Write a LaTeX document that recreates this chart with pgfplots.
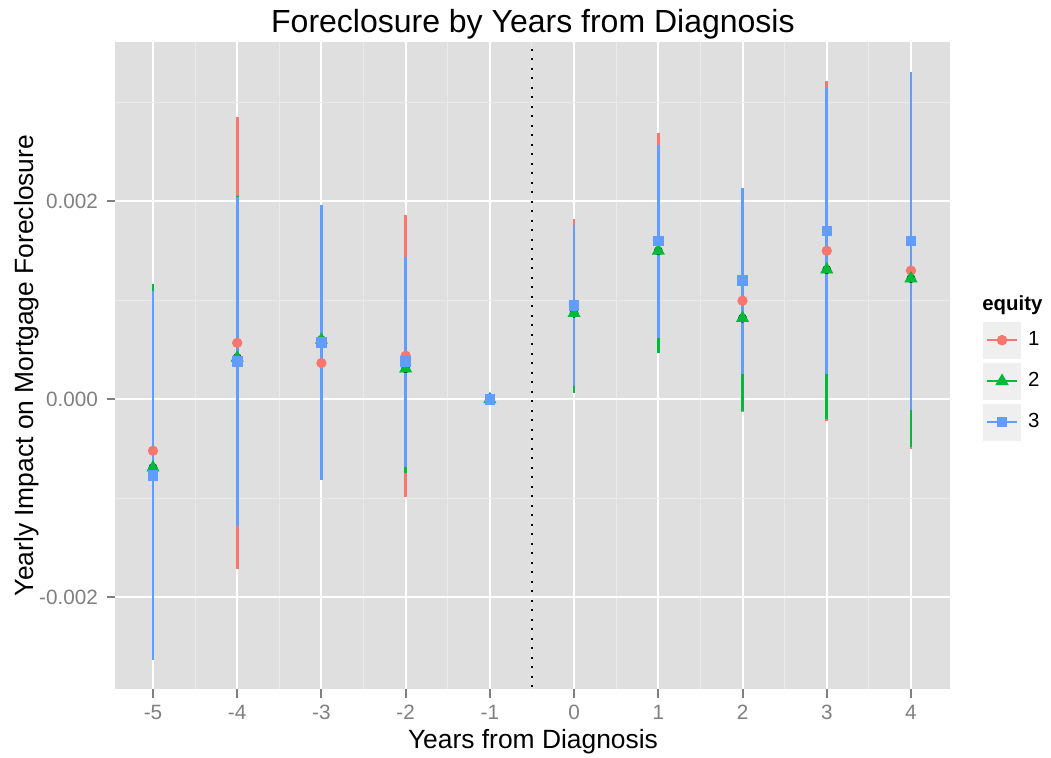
\documentclass[border=0pt]{standalone}
\usepackage{pgfplots}
\pgfplotsset{compat=1.18}
\usepackage{pgfplotstable}
\usepackage{fontspec}
\setmainfont{Liberation Sans}
\definecolor{c1}{HTML}{F8766D}
\definecolor{c2}{HTML}{00BA38}
\definecolor{c3}{HTML}{619CFF}
\definecolor{panel}{HTML}{DFDFDF}
\definecolor{minorg}{HTML}{EAEAEA}
\definecolor{keybg}{HTML}{EFEFEF}
\definecolor{tickc}{HTML}{7F7F7F}

\pgfplotstableread{
x y lo hi
-5 -0.00052 -0.00207 0.00103
-4 0.00057 -0.00171 0.00285
-3 0.000366 -0.00073 0.00147
-2 0.00044 -0.00099 0.00186
-1 0 0 0
0 0.00095 0.00008 0.00182
1 0.0016 0.00051 0.00269
2 0.000996 -0.000128 0.00212
3 0.0015 -0.00022 0.00322
4 0.0013 -0.0005 0.0031
}\tabA
\pgfplotstableread{
x y lo hi
-5 -0.00069 -0.00254 0.00116
-4 0.00042 -0.00121 0.00205
-3 0.0006 -0.0007 0.0019
-2 0.00031 -0.000745 0.001365
-1 0 0 0
0 0.00087 0.000064 0.00168
1 0.0015 0.00047 0.00253
2 0.00082 -0.000115 0.001757
3 0.00131 -0.0002 0.00282
4 0.00122 -0.00048 0.00291
}\tabB
\pgfplotstableread{
x y lo hi
-5 -0.000766 -0.00263 0.00109
-4 0.000383 -0.00128 0.00204
-3 0.000574 -0.00082 0.00196
-2 0.000383 -0.00068 0.00144
-1 0 0 0
0 0.00095 0.00013 0.00176
1 0.0016 0.00062 0.00257
2 0.0012 0.00026 0.00213
3 0.0017 0.00026 0.00315
4 0.0016 -0.00011 0.00331
}\tabC

\pgfplotsset{
  rangebar/.style={only marks, mark=none, forget plot,
    error bars/.cd, y dir=both, y explicit, error mark=none,
    error bar style={line width=1.35pt, line cap=butt, #1}},
  keyimg/.style={legend image code/.code={%
    \fill[keybg] (0pt,-8.75pt) rectangle (18pt,8.75pt);
    \draw[mark repeat=2, mark phase=2, ##1] plot coordinates {(1.5pt,0pt) (9pt,0pt) (16.5pt,0pt)};}},
}

\begin{document}
\begin{tikzpicture}
\begin{axis}[
  width=417.4pt, height=323.5pt, scale only axis,
  xmin=-5.445, xmax=4.467, ymin=-0.002926, ymax=0.003609,
  scaled y ticks=false, scaled x ticks=false,
  axis background/.style={fill=panel},
  axis line style={draw=none},
  xtick={-5,-4,-3,-2,-1,0,1,2,3,4},
  xticklabels={-5,-4,-3,-2,-1,0,1,2,3,4},
  minor xtick={-4.5,-3.5,-2.5,-1.5,-0.5,0.5,1.5,2.5,3.5},
  ytick={-0.002,0,0.002},
  yticklabels={-0.002,0.000,0.002},
  minor ytick={-0.001,0.001,0.003},
  grid=both,
  major grid style={white, line width=1pt},
  minor grid style={minorg, line width=0.5pt},
  tick align=outside,
  xtick pos=left, ytick pos=left,
  major tick length=4.25pt, minor tick length=0pt,
  tick style={tickc, line width=1pt},
  xticklabel style={anchor=base, inner sep=0pt, yshift=-11.05pt, font=\fontsize{10.35}{12}\selectfont, text=tickc},
  yticklabel style={anchor=east, inner sep=0pt, xshift=-4.35pt, font=\fontsize{10.35}{12}\selectfont, text=tickc},
  legend style={at={(axis description cs:1.0392,0.5677)}, anchor=north west,
    draw=none, fill=none, inner sep=0pt, outer sep=0pt,
    row sep=2pt, column sep=3.5pt, font=\fontsize{10.2}{12}\selectfont,
    nodes={inner sep=0pt}},
  legend cell align=left,
]
\addplot[rangebar=c1] table[x=x, y=y, y error plus expr=\thisrow{hi}-\thisrow{y}, y error minus expr=\thisrow{y}-\thisrow{lo}] {\tabA};
\addplot[rangebar=c2] table[x=x, y=y, y error plus expr=\thisrow{hi}-\thisrow{y}, y error minus expr=\thisrow{y}-\thisrow{lo}] {\tabB};
\addplot[rangebar=c3] table[x=x, y=y, y error plus expr=\thisrow{hi}-\thisrow{y}, y error minus expr=\thisrow{y}-\thisrow{lo}] {\tabC};
\addplot[forget plot, black, line width=1pt, line cap=butt, dash pattern=on 1pt off 3.75pt] coordinates {(-0.5,-0.0031) (-0.5,0.0038)};
\addplot[forget plot, only marks, mark=*, mark size=2.35pt, c1, mark options={draw=none, fill=c1}] table[x=x, y=y] {\tabA};
\addplot[forget plot, only marks, mark=triangle*, mark size=3.4pt, c2, mark options={draw=none, fill=c2}] table[x=x, y=y] {\tabB};
\addplot[forget plot, only marks, mark=square*, mark size=2.4pt, c3, mark options={draw=none, fill=c3}] table[x=x, y=y] {\tabC};
\addlegendimage{keyimg, c1, line width=1pt, mark=*, mark size=2.1pt, mark options={draw=none, fill=c1}}
\addlegendentry{1}
\addlegendimage{keyimg, c2, line width=1pt, mark=triangle*, mark size=2.9pt, mark options={draw=none, fill=c2}}
\addlegendentry{2}
\addlegendimage{keyimg, c3, line width=1pt, mark=square*, mark size=1.85pt, mark options={draw=none, fill=c3}}
\addlegendentry{3}
\end{axis}
\node[anchor=base, font=\fontsize{16}{19}\selectfont] at (208.7pt,328pt) {Foreclosure by Years from Diagnosis};
\node[anchor=base, font=\fontsize{13.2}{16}\selectfont] at (208.75pt,-29.6pt) {Years from Diagnosis};
\node[anchor=base, rotate=90, font=\fontsize{13.2}{16}\selectfont] at (-41.1pt,161.75pt) {Yearly Impact on Mortgage Foreclosure};
\node[anchor=base west, inner sep=0pt, font=\bfseries\fontsize{10.2}{12}\selectfont] at (433.25pt,189.5pt) {equity};
\pgfresetboundingbox
\path (-57.75pt,-34pt) rectangle (467.75pt,344.5pt);
\end{tikzpicture}
\end{document}
